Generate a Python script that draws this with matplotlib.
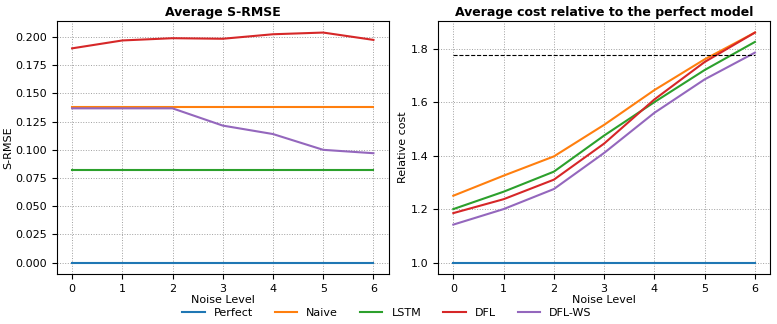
import numpy as np
import matplotlib
matplotlib.use("Agg")
import matplotlib.pyplot as plt

noise = [0, 1, 2, 3, 4, 5, 6]
models = ["Perfect", "Naive", "LSTM", "DFL", "DFL-WS"]

# S-RMSE per model
srmse_perfect = [0.0, 0.0, 0.0, 0.0, 0.0, 0.0, 0.0]
srmse_naive = [0.138, 0.138, 0.138, 0.138, 0.138, 0.138, 0.138]
srmse_lstm = [0.0825, 0.0825, 0.0825, 0.0825, 0.0825, 0.0825, 0.0825]
srmse_dfl = [0.190, 0.197, 0.199, 0.1985, 0.2025, 0.204, 0.1975]
srmse_dflws = [0.1368, 0.1368, 0.1368, 0.1215, 0.114, 0.100, 0.097]

# relative cost per model
cost_perfect = [1.0, 1.0, 1.0, 1.0, 1.0, 1.0, 1.0]
cost_naive = [1.25, 1.325, 1.397, 1.515, 1.645, 1.76, 1.86]
cost_lstm = [1.20, 1.265, 1.34, 1.475, 1.60, 1.72, 1.825]
cost_dfl = [1.185, 1.237, 1.31, 1.445, 1.61, 1.75, 1.86]
cost_dflws = [1.142, 1.20, 1.275, 1.41, 1.56, 1.685, 1.785]
cost_ref = 1.775

colors = ["#1f77b4", "#ff7f0e", "#2ca02c", "#d62728", "#9467bd"]

fig = plt.figure(figsize=(7.77, 3.24), dpi=100)
ax1 = fig.add_axes([0.0734, 0.154, 0.4266, 0.781])
ax2 = fig.add_axes([0.564, 0.154, 0.427, 0.781])

srmse = [srmse_perfect, srmse_naive, srmse_lstm, srmse_dfl, srmse_dflws]
cost = [cost_perfect, cost_naive, cost_lstm, cost_dfl, cost_dflws]

for name, c, ys in zip(models, colors, srmse):
    ax1.plot(noise, ys, color=c, label=name, lw=1.5)
ax1.set_title("Average S-RMSE", fontsize=9, fontweight="bold", pad=4)
ax1.set_xlabel("Noise Level", fontsize=8, labelpad=1)
ax1.set_ylabel("S-RMSE", fontsize=8, labelpad=2)

for name, c, ys in zip(models, colors, cost):
    ax2.plot(noise, ys, color=c, lw=1.5)
ax2.plot(noise, [cost_ref] * len(noise), color="black", ls="--", lw=0.8)
ax2.set_title("Average cost relative to the perfect model", fontsize=9, fontweight="bold", pad=4)
ax2.set_xlabel("Noise Level", fontsize=8, labelpad=1)
ax2.set_ylabel("Relative cost", fontsize=8, labelpad=2)

for ax in (ax1, ax2):
    ax.grid(True, color="#a0a0a0", ls=":", lw=0.7)
    ax.tick_params(labelsize=8)
    ax.set_xticks(noise)

handles, labels = ax1.get_legend_handles_labels()
fig.legend(handles, labels, loc="center", bbox_to_anchor=(0.498, 0.034), ncol=5,
           frameon=False, fontsize=8, columnspacing=2.0, handlelength=2.0)

fig.savefig("out.png", dpi=100)
